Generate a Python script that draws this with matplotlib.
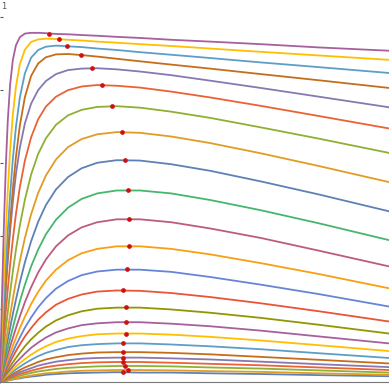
import numpy as np
import matplotlib
matplotlib.use("Agg")
import matplotlib.pyplot as plt

# -------------------------------------------------------------------
# Data (x: 0..10 across, y: 0..1 up the axis)
# -------------------------------------------------------------------
x_grid = [0, 0.05, 0.1, 0.15, 0.2, 0.26, 0.33, 0.41, 0.51, 0.64, 0.8, 0.98,
          1.18, 1.44, 1.75, 2.1, 2.5, 3.0, 3.6, 4.4, 5.4, 6.7, 8.2, 10]

# one row per curve, bottom curve first
curves = [
    [0, 0.001, 0.002, 0.003, 0.004, 0.006, 0.007, 0.009, 0.010, 0.013, 0.015, 0.017,
     0.020, 0.022, 0.024, 0.025, 0.026, 0.027, 0.026, 0.026, 0.024, 0.022, 0.019, 0.016],
    [0, 0.001, 0.003, 0.004, 0.005, 0.006, 0.008, 0.010, 0.012, 0.015, 0.018, 0.021,
     0.024, 0.026, 0.029, 0.031, 0.032, 0.033, 0.033, 0.032, 0.030, 0.028, 0.024, 0.020],
    [0, 0.002, 0.004, 0.005, 0.007, 0.009, 0.011, 0.014, 0.017, 0.021, 0.025, 0.029,
     0.032, 0.036, 0.039, 0.041, 0.043, 0.044, 0.044, 0.043, 0.040, 0.037, 0.032, 0.026],
    [0, 0.002, 0.005, 0.007, 0.009, 0.012, 0.014, 0.018, 0.022, 0.026, 0.031, 0.036,
     0.041, 0.045, 0.049, 0.052, 0.054, 0.055, 0.055, 0.053, 0.050, 0.046, 0.040, 0.033],
    [0, 0.003, 0.006, 0.008, 0.011, 0.014, 0.018, 0.022, 0.027, 0.032, 0.038, 0.045,
     0.050, 0.056, 0.060, 0.064, 0.066, 0.067, 0.067, 0.065, 0.062, 0.056, 0.049, 0.041],
    [0, 0.003, 0.007, 0.010, 0.014, 0.017, 0.022, 0.027, 0.033, 0.040, 0.047, 0.055,
     0.062, 0.068, 0.074, 0.078, 0.081, 0.082, 0.082, 0.080, 0.076, 0.069, 0.061, 0.051],
    [0, 0.004, 0.009, 0.013, 0.018, 0.023, 0.028, 0.035, 0.042, 0.051, 0.061, 0.071,
     0.080, 0.088, 0.096, 0.101, 0.104, 0.106, 0.106, 0.103, 0.098, 0.090, 0.079, 0.066],
    [0, 0.005, 0.011, 0.016, 0.021, 0.028, 0.035, 0.043, 0.052, 0.063, 0.075, 0.087,
     0.098, 0.110, 0.119, 0.126, 0.131, 0.133, 0.133, 0.130, 0.124, 0.114, 0.101, 0.085],
    [0, 0.007, 0.013, 0.020, 0.027, 0.034, 0.043, 0.053, 0.064, 0.078, 0.094, 0.108,
     0.122, 0.136, 0.147, 0.156, 0.161, 0.164, 0.164, 0.160, 0.153, 0.141, 0.125, 0.106],
    [0, 0.008, 0.017, 0.025, 0.033, 0.043, 0.054, 0.066, 0.080, 0.098, 0.117, 0.135,
     0.152, 0.169, 0.183, 0.194, 0.201, 0.204, 0.204, 0.199, 0.190, 0.176, 0.157, 0.133],
    [0, 0.011, 0.022, 0.032, 0.043, 0.055, 0.069, 0.085, 0.103, 0.125, 0.148, 0.171,
     0.191, 0.212, 0.228, 0.240, 0.248, 0.251, 0.250, 0.244, 0.233, 0.216, 0.194, 0.166],
    [0, 0.013, 0.026, 0.038, 0.051, 0.066, 0.082, 0.101, 0.122, 0.149, 0.177, 0.205,
     0.230, 0.256, 0.277, 0.293, 0.303, 0.308, 0.308, 0.302, 0.288, 0.267, 0.241, 0.207],
    [0, 0.016, 0.031, 0.046, 0.061, 0.079, 0.099, 0.121, 0.148, 0.179, 0.214, 0.247,
     0.278, 0.308, 0.334, 0.353, 0.365, 0.372, 0.372, 0.365, 0.350, 0.326, 0.296, 0.257],
    [0, 0.019, 0.038, 0.057, 0.075, 0.097, 0.121, 0.148, 0.180, 0.219, 0.260, 0.300,
     0.336, 0.372, 0.402, 0.424, 0.438, 0.446, 0.446, 0.438, 0.421, 0.395, 0.360, 0.317],
    [0, 0.023, 0.047, 0.070, 0.092, 0.119, 0.149, 0.182, 0.221, 0.267, 0.317, 0.363,
     0.405, 0.445, 0.478, 0.502, 0.517, 0.525, 0.525, 0.517, 0.499, 0.471, 0.435, 0.389],
    [0, 0.029, 0.059, 0.087, 0.116, 0.149, 0.186, 0.226, 0.273, 0.328, 0.386, 0.439,
     0.485, 0.528, 0.562, 0.586, 0.601, 0.608, 0.607, 0.597, 0.579, 0.550, 0.514, 0.468],
    [0, 0.036, 0.072, 0.108, 0.142, 0.183, 0.228, 0.276, 0.332, 0.395, 0.460, 0.518,
     0.566, 0.610, 0.644, 0.666, 0.679, 0.685, 0.683, 0.673, 0.655, 0.627, 0.592, 0.548],
    [0, 0.049, 0.098, 0.146, 0.192, 0.245, 0.303, 0.363, 0.429, 0.500, 0.569, 0.625,
     0.668, 0.705, 0.731, 0.746, 0.754, 0.756, 0.752, 0.741, 0.724, 0.698, 0.667, 0.628],
    [0, 0.066, 0.131, 0.194, 0.254, 0.321, 0.391, 0.461, 0.534, 0.607, 0.671, 0.720,
     0.755, 0.782, 0.800, 0.810, 0.814, 0.812, 0.807, 0.796, 0.780, 0.757, 0.729, 0.695],
    [0, 0.089, 0.176, 0.257, 0.333, 0.414, 0.494, 0.570, 0.642, 0.709, 0.763, 0.800,
     0.825, 0.844, 0.855, 0.859, 0.860, 0.857, 0.851, 0.841, 0.826, 0.806, 0.782, 0.753],
    [0, 0.091, 0.181, 0.267, 0.348, 0.437, 0.529, 0.617, 0.703, 0.781, 0.839, 0.873,
     0.890, 0.898, 0.899, 0.896, 0.892, 0.886, 0.879, 0.870, 0.859, 0.844, 0.827, 0.806],
    [0, 0.111, 0.218, 0.319, 0.413, 0.513, 0.611, 0.699, 0.780, 0.846, 0.889, 0.910,
     0.919, 0.922, 0.920, 0.918, 0.914, 0.910, 0.904, 0.897, 0.888, 0.876, 0.863, 0.847],
    [0, 0.147, 0.286, 0.413, 0.524, 0.635, 0.732, 0.810, 0.871, 0.911, 0.932, 0.939,
     0.941, 0.940, 0.938, 0.936, 0.933, 0.930, 0.926, 0.921, 0.914, 0.905, 0.895, 0.883],
    [0, 0.227, 0.429, 0.593, 0.716, 0.815, 0.883, 0.923, 0.945, 0.955, 0.957, 0.957,
     0.956, 0.954, 0.953, 0.951, 0.949, 0.946, 0.943, 0.938, 0.933, 0.926, 0.917, 0.908],
]

# maxima (red dots), same order as the curves
peak_x = [3.17, 3.30, 3.21, 3.17, 3.17, 3.17, 3.17, 3.25, 3.25, 3.25, 3.17, 3.26,
          3.31, 3.31, 3.29, 3.22, 3.14, 2.89, 2.63, 2.37, 2.09, 1.73, 1.52, 1.27]
peak_y = [0.027, 0.033, 0.044, 0.055, 0.067, 0.082, 0.106, 0.133, 0.164, 0.205,
          0.251, 0.309, 0.373, 0.447, 0.526, 0.608, 0.685, 0.756, 0.814, 0.860,
          0.896, 0.921, 0.940, 0.955]

y_ticks = [0.2, 0.4, 0.6, 0.8, 1.0]

# Mathematica-style default palette, cycled
colors = ["#5E81B5", "#E19C24", "#8FB032", "#EB6235", "#8778B3", "#C56E1A",
          "#5D9EC7", "#FFBF00", "#A5609D", "#929600", "#E95536", "#6685D9",
          "#F89F13", "#BC5B80", "#47B66D"]

# -------------------------------------------------------------------
# Plot
# -------------------------------------------------------------------
fig = plt.figure(figsize=(3.89, 3.89), dpi=100)
ax = fig.add_axes([0, 0, 1, 1])

for i, ys in enumerate(curves):
    ax.plot(x_grid, ys, color=colors[i % len(colors)], lw=1.3)

ax.plot(peak_x, peak_y, "o", color="#d01010", ms=3.4, mec="none", zorder=5)

ax.set_xlim(0, 10)
ax.set_ylim(-0.019, 1.047)
for s in ["top", "right", "left"]:
    ax.spines[s].set_visible(False)
ax.spines["bottom"].set_position(("data", 0))
ax.spines["bottom"].set_color("#777777")
ax.set_xticks([])
ax.set_yticks(y_ticks)
ax.tick_params(axis="y", direction="in", length=2.5, color="#555555", labelleft=False)
ax.text(0.004, 0.995, "1", transform=ax.transAxes, fontsize=6, color="#555555",
        va="top", ha="left")

fig.savefig("out.png", dpi=100)
